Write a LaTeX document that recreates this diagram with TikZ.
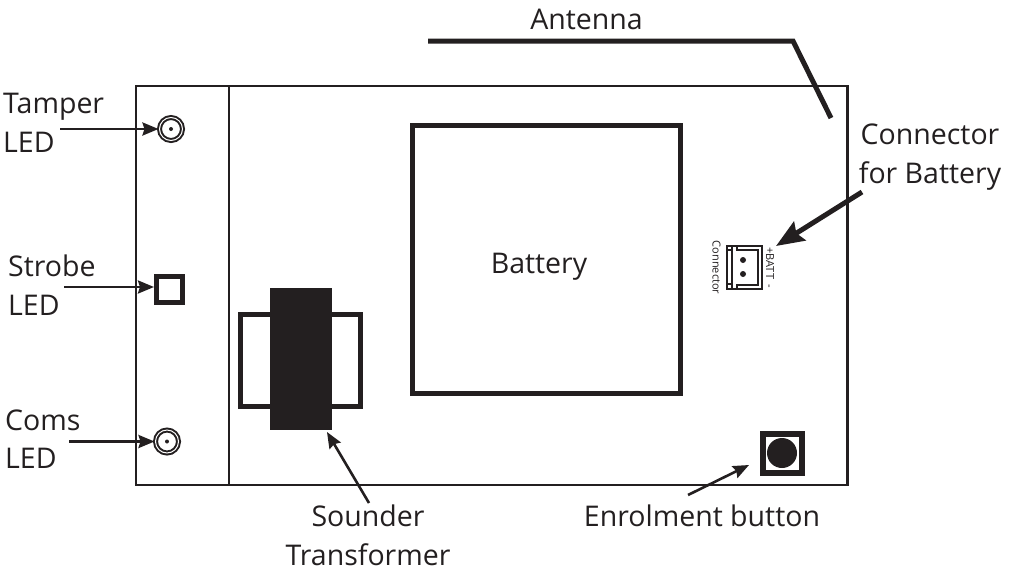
\documentclass[tikz,border=0pt]{standalone}
\usepackage{fontspec}
\setmainfont{Open Sans}
\usepackage{tikz}
\usetikzlibrary{arrows.meta,positioning}
\definecolor{ink}{HTML}{231F20}
\tikzset{
  lbl/.style={font=\fontsize{28.5}{38.5}\selectfont,text=ink,inner sep=0pt,align=left},
  lblc/.style={lbl,align=center},
  tiny/.style={font=\fontsize{11}{12}\selectfont,text=ink,inner sep=0pt,rotate=-90},
  ptr/.style={draw=ink,line width=2.6pt,-{Stealth[length=16pt,width=13pt,inset=2pt]}},
  led/.style={draw=ink,shape=circle,line width=2pt,double=white,double distance=1pt,minimum size=23pt,inner sep=0pt,fill=white},
  edge/.style={draw=ink,line width=2.2pt},
  fine/.style={draw=ink,line width=1.3pt}
}
\begin{document}
\begin{tikzpicture}[x=1pt,y=-1pt]
\useasboundingbox (0,0) rectangle (1014,571);

% board
\path (136,86)  coordinate (BA);
\path (847.5,485) coordinate (BB);
\path (229,86)  coordinate (DA);
\path (229,485) coordinate (DB);
\draw[edge] (BA) rectangle (BB);
\draw[edge] (DA) to (DB);

% antenna
\path (428,41)  coordinate (A1);
\path (793,41)  coordinate (A2);
\path (831,118) coordinate (A3);
\draw[draw=ink,line width=5pt,line join=miter] (A1) -- (A2) -- (A3);

% battery
\path (546,259) node[draw=ink,line width=5pt,minimum size=268pt,inner sep=0pt] (battery) {};
\path (539,267) node[lblc] (batterytxt) {Battery};

% leds
\path (171,129) node[led] (L1) {};
\path (167,441.5) node[led] (L3) {};
\path (169.5,289) node[draw=ink,line width=5pt,minimum size=26pt,inner sep=0pt] (L2) {};
\fill[ink] (L1.center) circle (2pt);
\fill[ink] (L3.center) circle (2pt);

% transformer
\path (300.5,360.7) node[draw=ink,line width=5pt,minimum width=120pt,minimum height=92.5pt,inner sep=0pt] (frame) {};
\path (301,359) node[fill=ink,minimum width=62pt,minimum height=142pt,inner sep=0pt] (core) {};

% button
\path (782.5,453.5) node[draw=ink,line width=6pt,minimum size=39pt,inner sep=0pt] (btn) {};
\path (782,453) node[fill=ink,shape=circle,minimum size=30pt,inner sep=0pt] (cap) {};

% connector
\path (744,267) node[draw=ink,line width=2pt,minimum width=35pt,minimum height=43pt,inner sep=0pt] (J1) {};
\path (743,260) node[fill=ink,shape=circle,minimum size=6pt,inner sep=0pt] (P1) {};
\path (743,274) node[fill=ink,shape=circle,minimum size=6pt,inner sep=0pt] (P2) {};
\draw[fine] (732,246) to (732,288);
\draw[fine] (737,246) -- (737,250) -- (758,250) -- (758,285) -- (737,285) -- (737,288);
\draw[fine] (726,250) to (732,250);
\draw[fine] (726,284) to (732,284);
\path (770,267.5) node[tiny] (jbatt) {+BATT\hspace{5pt}-};
\path (716.5,267.5) node[tiny] (jconn) {Connector};

% labels
\path (3,123)  node[lbl,anchor=west] (tamper) {Tamper\\LED};
\path (8,285)  node[lbl,anchor=west] (strobe) {Strobe\\LED};
\path (5,439)  node[lbl,anchor=west] (coms) {Coms\\LED};
\path (586.5,19) node[lblc] (antenna) {Antenna};
\path (930,157) node[lblc] (batt) {Connector\\for Battery};
\path (368,535.5) node[lblc] (sounder) {Sounder\\Transformer};
\path (702,516) node[lblc] (enrol) {Enrolment button};

% arrows
\path (60,129)  coordinate (F1);
\path (64,287)  coordinate (F2);
\path (154,287) coordinate (T2);
\path (69,441.5)  coordinate (F3);
\path (369,503) coordinate (F4);
\path (327,432) coordinate (T4);
\path (688,495) coordinate (F5);
\path (749,465) coordinate (T5);
\path (862,192) coordinate (F6);
\path (776,246) coordinate (T6);
\draw[ptr] (F1) to (L1.west);
\draw[ptr] (F2) to (T2);
\draw[ptr] (F3) to (L3.west);
\draw[ptr] (F4) to (T4);
\draw[ptr] (F5) to (T5);
\draw[ptr,line width=5pt,-{Stealth[length=28pt,width=22pt,inset=4pt]}] (F6) to (T6);
\end{tikzpicture}
\end{document}
